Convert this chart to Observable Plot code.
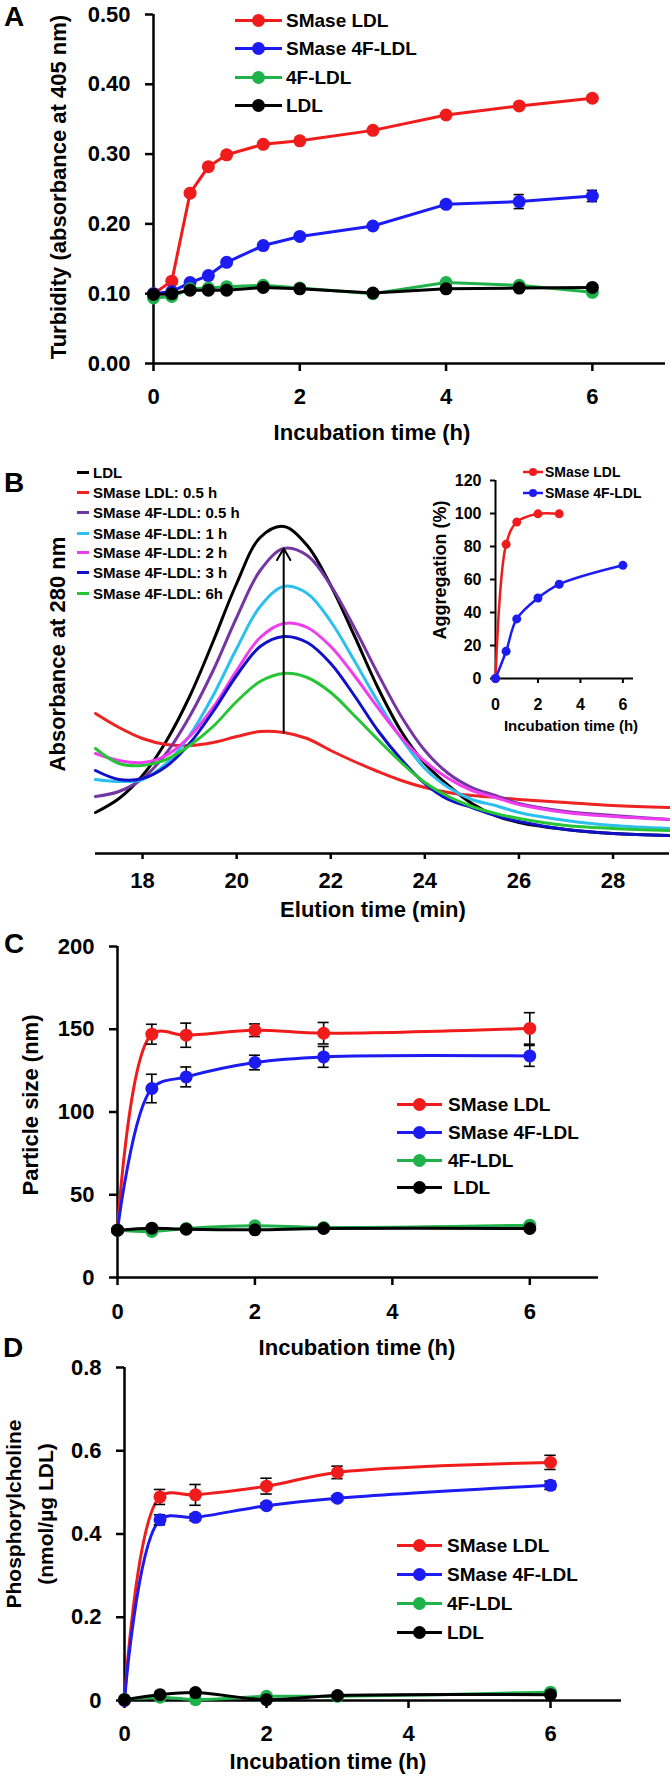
<!DOCTYPE html>
<html><head><meta charset="utf-8">
<script src="https://cdn.jsdelivr.net/npm/d3@7"></script>
<script src="https://cdn.jsdelivr.net/npm/@observablehq/plot@0.6"></script>
<style>
html,body{margin:0;padding:0;background:#fff;}
#fig{position:relative;width:670px;height:1776px;overflow:hidden;font-family:"Liberation Sans",Arial,Helvetica,sans-serif;font-weight:bold;color:#000;background:#fff;}
.t{position:absolute;white-space:pre;transform:translate(-50%,-50%);line-height:1;}
.rot{transform:translate(-50%,-50%) rotate(-90deg);}
.leg{position:absolute;display:flex;align-items:center;white-space:pre;line-height:1;transform:translateY(-50%);}
.leg svg{display:block;overflow:visible;}
</style></head><body><div id="fig"></div><script>
// ---------- shared ----------
const seriesNames = ["SMase LDL", "SMase 4F-LDL", "4F-LDL", "LDL"];
const seriesColors = ["#f01c1c", "#1c1cf2", "#1fb24a", "#000000"];
const timeTicks = [0, 2, 4, 6];

// ---------- Panel A : turbidity ----------
const timeA = [0, 0.25, 0.5, 0.75, 1, 1.5, 2, 3, 4, 5, 6];
const turbSMaseLDL = [0.100, 0.118, 0.244, 0.282, 0.299, 0.314, 0.319, 0.334, 0.356, 0.369, 0.380];
const turbSMase4F  = [0.100, 0.103, 0.116, 0.126, 0.145, 0.169, 0.182, 0.197, 0.228, 0.232, 0.240];
const turb4F       = [0.094, 0.096, 0.107, 0.108, 0.110, 0.112, 0.108, 0.100, 0.116, 0.112, 0.102];
const turbLDL      = [0.099, 0.100, 0.105, 0.105, 0.105, 0.109, 0.107, 0.101, 0.107, 0.108, 0.109];
const turbErrSMaseLDL = [0, 0, 0, 0, 0, 0, 0, 0, 0, 0.003, 0.004];
const turbErrSMase4F  = [0, 0, 0, 0, 0, 0, 0, 0, 0.004, 0.010, 0.008];
const turbTicks = [0, 0.1, 0.2, 0.3, 0.4, 0.5];

// ---------- Panel B : elution profiles ----------
const elution = [17, 17.5, 18, 18.5, 19, 19.5, 20, 20.5, 21, 21.5, 22, 22.5, 23, 23.5, 24, 24.5, 25, 25.5, 26, 27, 28, 29.2];
const absLDL      = [41, 55, 78, 112, 157, 212, 270, 316, 327, 308, 268, 218, 166, 122, 90, 68, 50, 38, 31, 24, 20, 18];
const absSMaseLDL05 = [140, 126, 115, 109, 108, 111, 117, 122, 121, 115, 103, 92, 82, 73, 66, 61, 58, 56, 54, 51, 48, 46];
const abs4F05     = [57, 62, 75, 100, 137, 183, 236, 283, 305, 298, 268, 226, 180, 137, 103, 80, 66, 58, 50, 42, 38, 34];
const abs4F1      = [74, 72, 74, 90, 118, 158, 205, 247, 267, 260, 232, 193, 152, 115, 85, 66, 54, 48, 41, 33, 28, 25];
const abs4F2      = [100, 93, 91, 98, 117, 146, 183, 216, 230, 226, 207, 178, 146, 116, 92, 75, 63, 56, 49, 41, 37, 34];
const abs4F3      = [83, 74, 75, 87, 110, 142, 178, 207, 217, 211, 190, 158, 123, 94, 70, 54, 46, 38, 32, 24, 20, 18];
const abs4F6      = [105, 90, 88, 94, 108, 127, 152, 172, 180, 176, 161, 138, 114, 91, 71, 57, 47, 40, 35, 28, 25, 23];
const elutionNames = ["LDL", "SMase LDL: 0.5 h", "SMase 4F-LDL: 0.5 h", "SMase 4F-LDL: 1 h", "SMase 4F-LDL: 2 h", "SMase 4F-LDL: 3 h", "SMase 4F-LDL: 6h"];
const elutionColors = ["#000000", "#ee2222", "#7436a2", "#2cc0ee", "#ee3cee", "#1010c8", "#26c436"];
const elutionTicks = [18, 20, 22, 24, 26, 28];

// ---------- Panel B inset : aggregation ----------
const aggTimeLDL = [0, 0.5, 1, 2, 3];
const aggSMaseLDL = [0, 81.3, 94.8, 99.8, 99.8];
const aggTime4F = [0, 0.5, 1, 2, 3, 6];
const aggSMase4F = [0, 16.5, 36.1, 48.8, 57.1, 68.6];
const aggTicks = [0, 20, 40, 60, 80, 100, 120];

// ---------- Panel C : particle size ----------
const timeC = [0, 0.5, 1, 2, 3, 6];
const sizeSMaseLDL = [28.6, 147, 146.4, 149.4, 147.6, 150.5];
const sizeSMase4F  = [28.6, 114.2, 121.2, 129.9, 133.3, 133.9];
const size4F       = [28.6, 27.8, 29.6, 31.2, 30.2, 31.6];
const sizeLDL      = [28.6, 29.8, 29.2, 28.8, 29.6, 29.6];
const sizeErrSMaseLDL = [0, 6, 7.3, 3.8, 6.5, 9.5];
const sizeErrSMase4F  = [0, 8.6, 6, 4.4, 6.3, 6.3];
const sizeTicks = [0, 50, 100, 150, 200];

// ---------- Panel D : phosphorylcholine ----------
const timeD = [0, 0.5, 1, 2, 3, 6];
const pcSMaseLDL = [0, 0.489, 0.494, 0.515, 0.548, 0.572];
const pcSMase4F  = [0, 0.434, 0.440, 0.468, 0.486, 0.517];
const pc4F       = [0.003, 0.008, 0.002, 0.010, 0.010, 0.020];
const pcLDL      = [0.002, 0.014, 0.019, 0.002, 0.012, 0.014];
const pcErrSMaseLDL = [0, 0.018, 0.025, 0.019, 0.015, 0.017];
const pcErrSMase4F  = [0, 0.012, 0.008, 0.006, 0.006, 0.010];
const pcTicks = [0, 0.2, 0.4, 0.6, 0.8];

// ---------- helpers ----------
const fig = document.getElementById("fig");
const FONT = '"Liberation Sans", Arial, Helvetica, sans-serif';
const baseStyle = {background: "transparent", overflow: "visible", fontFamily: FONT, fontWeight: "bold", color: "#000"};
const intFmt = d3.format("d");

function place(el, top, left = 0) {
  el.style.position = "absolute"; el.style.top = top + "px"; el.style.left = left + "px";
  fig.appendChild(el);
}
function text(str, cx, cy, size, rotate = false) {
  const d = document.createElement("div");
  d.className = "t" + (rotate ? " rot" : "");
  d.textContent = str; d.style.left = cx + "px"; d.style.top = cy + "px"; d.style.fontSize = size + "px";
  fig.appendChild(d);
}
function legend(items, x0, rows, w, r, gap, size, lw) {
  items.forEach((it, i) => {
    const d = document.createElement("div");
    d.className = "leg"; d.style.left = x0 + "px"; d.style.top = rows[i] + "px"; d.style.fontSize = size + "px";
    const ns = "http://www.w3.org/2000/svg";
    const s = document.createElementNS(ns, "svg");
    s.setAttribute("width", w); s.setAttribute("height", 14);
    const l = document.createElementNS(ns, "line");
    l.setAttribute("x1", 0); l.setAttribute("x2", w); l.setAttribute("y1", 7); l.setAttribute("y2", 7);
    l.setAttribute("stroke", it.color); l.setAttribute("stroke-width", lw);
    s.appendChild(l);
    if (r > 0) {
      const c = document.createElementNS(ns, "circle");
      c.setAttribute("cx", w / 2); c.setAttribute("cy", 7); c.setAttribute("r", r); c.setAttribute("fill", it.color);
      s.appendChild(c);
    }
    d.appendChild(s);
    const sp = document.createElement("span");
    sp.textContent = it.name; sp.style.marginLeft = gap + "px";
    d.appendChild(sp);
    fig.appendChild(d);
  });
}

function seriesPlot(o) {
  const marks = [
    Plot.ruleY([0], {strokeWidth: o.aw}),
    Plot.ruleX([0], {strokeWidth: o.aw}),
    Plot.axisX({ticks: o.xTicks, tickSize: o.tick, tickPadding: o.xPad, tickFormat: intFmt, fontSize: o.fs, fontWeight: "bold", strokeWidth: o.aw, label: null}),
    Plot.axisY({ticks: o.yTicks, tickSize: o.tick, tickPadding: o.yPad, tickFormat: o.yFormat, fontSize: o.fs, fontWeight: "bold", strokeWidth: o.aw, label: null})
  ];
  o.series.forEach(s => {
    const rows = s.y.map((v, j) => ({x: s.x[j], y: v, e: s.err ? s.err[j] : 0}));
    const eb = rows.filter(d => d.e > 0);
    marks.push(Plot.line(rows, {x: "x", y: "y", stroke: s.color, strokeWidth: o.lw, curve: o.curve}));
    if (eb.length) {
      marks.push(Plot.ruleX(eb, {x: "x", y1: d => d.y - d.e, y2: d => d.y + d.e, strokeWidth: 1.6, stroke: "#000"}));
      marks.push(Plot.ruleY(eb, {y: d => d.y + d.e, x1: d => d.x - o.cap, x2: d => d.x + o.cap, strokeWidth: 1.6, stroke: "#000"}));
      marks.push(Plot.ruleY(eb, {y: d => d.y - d.e, x1: d => d.x - o.cap, x2: d => d.x + o.cap, strokeWidth: 1.6, stroke: "#000"}));
    }
    marks.push(Plot.dot(rows, {x: "x", y: "y", fill: s.color, r: o.r}));
  });
  return Plot.plot({
    width: 670, height: o.height,
    marginLeft: o.mL, marginRight: o.mR, marginTop: o.mT, marginBottom: o.mB,
    x: {domain: o.xDomain}, y: {domain: o.yDomain},
    style: baseStyle, marks
  });
}

// ---------- Panel A ----------
const seriesA = [
  {x: timeA, y: turbSMaseLDL, err: turbErrSMaseLDL, color: seriesColors[0]},
  {x: timeA, y: turbSMase4F, err: turbErrSMase4F, color: seriesColors[1]},
  {x: timeA, y: turb4F, color: seriesColors[2]},
  {x: timeA, y: turbLDL, color: seriesColors[3]}
];
place(seriesPlot({height: 440, mL: 153, mR: 5, mT: 14, mB: 77, xDomain: [0, 7], yDomain: [0, 0.5],
  xTicks: timeTicks, yTicks: turbTicks, yFormat: d3.format(".2f"), tick: 8, xPad: 17, yPad: 15, fs: 22, aw: 2.5,
  series: seriesA, lw: 3, r: 6.5, cap: 0.07, curve: "linear"}), 0);

// ---------- Panel B ----------
const absSeries = [absLDL, absSMaseLDL05, abs4F05, abs4F1, abs4F2, abs4F3, abs4F6];
const bMarks = [
  Plot.ruleY([0], {strokeWidth: 2.5}),
  Plot.axisX({ticks: elutionTicks, tickSize: 6, tickPadding: 13, tickFormat: intFmt, fontSize: 22, fontWeight: "bold", strokeWidth: 2.5, label: null})
];
absSeries.forEach((ys, i) => {
  bMarks.push(Plot.line(ys.map((v, j) => ({x: elution[j], y: v})), {x: "x", y: "y", stroke: elutionColors[i], strokeWidth: 3, curve: "catmull-rom"}));
});
const iArrow = elution.indexOf(21);
bMarks.push(Plot.arrow([{x: elution[iArrow], y1: absSMaseLDL05[iArrow], y2: abs4F05[iArrow]}],
  {x1: "x", x2: "x", y1: "y1", y2: "y2", stroke: "#000", strokeWidth: 2, headLength: 10}));
place(Plot.plot({
  width: 670, height: 480, marginLeft: 95, marginRight: 1, marginTop: 73, marginBottom: 67,
  x: {domain: [17, 29.2]}, y: {domain: [0, 340], axis: null},
  style: baseStyle, marks: bMarks
}), 440);

// inset
const insetSeries = [
  {x: aggTimeLDL, y: aggSMaseLDL, color: seriesColors[0]},
  {x: aggTime4F, y: aggSMase4F, color: seriesColors[1]}
];
place(seriesPlot({height: 300, mL: 495, mR: 37, mT: 40, mB: 62, xDomain: [0, 6.5], yDomain: [0, 120],
  xTicks: timeTicks, yTicks: aggTicks, yFormat: intFmt, tick: 5, xPad: 15, yPad: 9, fs: 16, aw: 2,
  series: insetSeries, lw: 2.5, r: 4.5, cap: 0, curve: "catmull-rom"}), 440);

// ---------- Panel C ----------
const seriesC = [
  {x: timeC, y: sizeSMaseLDL, err: sizeErrSMaseLDL, color: seriesColors[0]},
  {x: timeC, y: sizeSMase4F, err: sizeErrSMase4F, color: seriesColors[1]},
  {x: timeC, y: size4F, color: seriesColors[2]},
  {x: timeC, y: sizeLDL, color: seriesColors[3]}
];
place(seriesPlot({height: 440, mL: 117, mR: 72, mT: 46, mB: 63, xDomain: [0, 7], yDomain: [0, 200],
  xTicks: timeTicks, yTicks: sizeTicks, yFormat: intFmt, tick: 8, xPad: 18, yPad: 15, fs: 22, aw: 2.5,
  series: seriesC, lw: 3, r: 6.5, cap: 0.08, curve: "catmull-rom"}), 900);

// ---------- Panel D ----------
const seriesD = [
  {x: timeD, y: pcSMaseLDL, err: pcErrSMaseLDL, color: seriesColors[0]},
  {x: timeD, y: pcSMase4F, err: pcErrSMase4F, color: seriesColors[1]},
  {x: timeD, y: pc4F, color: seriesColors[2]},
  {x: timeD, y: pcLDL, color: seriesColors[3]}
];
place(seriesPlot({height: 436, mL: 124, mR: 49, mT: 27, mB: 76, xDomain: [0, 7], yDomain: [0, 0.8],
  xTicks: timeTicks, yTicks: pcTicks, yFormat: d => d === 0 ? "0" : d3.format(".1f")(d), tick: 8, xPad: 17, yPad: 15, fs: 22, aw: 2.5,
  series: seriesD, lw: 3, r: 6.5, cap: 0.08, curve: "catmull-rom"}), 1340);

// ---------- texts ----------
text("A", 14, 17, 28); text("B", 14, 483, 28); text("C", 14, 944, 28); text("D", 13, 1348, 28);
text("Incubation time (h)", 372, 433, 22);
text("Turbidity (absorbance at 405 nm)", 59, 187, 22, true);
text("Elution time (min)", 373, 910, 22);
text("Absorbance at 280 nm", 58, 654, 22, true);
text("Incubation time (h)", 571, 725, 15);
text("Aggregation (%)", 440, 570, 18, true);
text("Incubation time (h)", 357, 1348, 22);
text("Particle size (nm)", 31, 1105, 22, true);
text("Incubation time (h)", 328, 1762, 22);
text("Phosphorylcholine", 13, 1514, 21, true);
text("(nmol/µg LDL)", 45, 1514, 21, true);

// ---------- legends ----------
const legItems = seriesNames.map((n, i) => ({name: n, color: seriesColors[i]}));
legend(legItems, 235, [20, 48, 77, 105], 47, 6.5, 4, 19, 3);
legend(elutionNames.map((n, i) => ({name: n, color: elutionColors[i]})), 77, [472, 492, 512, 533, 552, 572, 593], 12, 0, 4, 15, 3);
legend(legItems.slice(0, 2), 523, [472, 493], 20, 4, 2, 14, 2.5);
legend(legItems.map((d, i) => ({name: i === 3 ? " " + d.name : d.name, color: d.color})), 397, [1104, 1132, 1160, 1187], 45, 6.5, 6, 19, 3);
legend(legItems, 397, [1545, 1574, 1603, 1632], 45, 6.5, 5, 19, 3);
</script></body></html>
